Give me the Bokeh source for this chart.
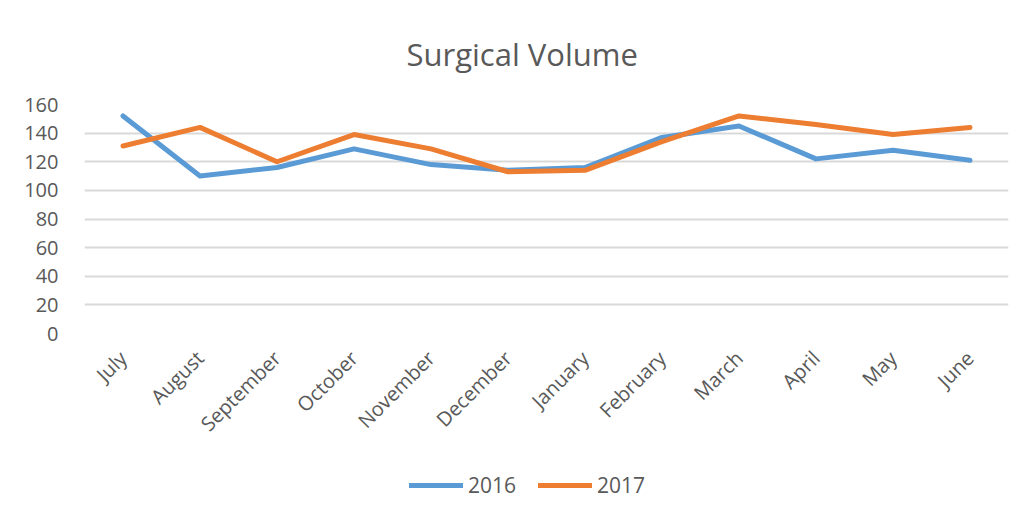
from bokeh.plotting import figure
from bokeh.layouts import column
from bokeh.models import Range1d, FactorRange, Legend, LegendItem
from bokeh.embed import file_html
from bokeh.resources import INLINE
import math

months = ["July", "August", "September", "October", "November", "December",
          "January", "February", "March", "April", "May", "June"]
vol_2016 = [152, 110, 116, 129, 118, 114, 116, 137, 145, 122, 128, 121]
vol_2017 = [131, 144, 120, 139, 129, 113, 114, 134, 152, 146, 139, 144]
y_ticks = [0, 20, 40, 60, 80, 100, 120, 140, 160]
title_text = "Surgical Volume"
series_names = ["2016", "2017"]
colors = ["#5B9BD5", "#ED7D31"]

FONT = "Open Sans"
TXT = "#595959"

p = figure(frame_width=924, frame_height=229, x_range=FactorRange(*months, range_padding=0),
           y_range=Range1d(0, 160), output_backend="svg", toolbar_location=None,
           min_border_left=84, min_border_right=18, min_border_top=104, min_border_bottom=100,
           title=title_text)
p.outline_line_color = None
p.background_fill_color = "white"
p.border_fill_color = "white"

p.title.text_font = FONT
p.title.text_font_size = "31px"
p.title.text_font_style = "normal"
p.title.text_color = TXT
p.title.align = "left"
p.title.offset = 322
p.title.standoff = 60

p.line(months, vol_2016, line_color=colors[0], line_width=5, line_join="round", line_cap="round")
p.line(months, vol_2017, line_color=colors[1], line_width=5, line_join="round", line_cap="round")

p.xgrid.grid_line_color = None
p.ygrid.grid_line_color = "#d9d9d9"
p.ygrid.grid_line_width = 2
p.yaxis.ticker = y_ticks

for ax in (p.xaxis[0], p.yaxis[0]):
    ax.axis_line_color = None
    ax.major_tick_line_color = None
    ax.minor_tick_line_color = None
    ax.major_label_text_font = FONT
    ax.major_label_text_font_size = "20px"
    ax.major_label_text_color = TXT
p.yaxis.major_label_standoff = 20
p.xaxis.major_label_orientation = math.pi / 4
p.xaxis.major_label_standoff = 15

# legend strip below the chart (series drawn out of its visible range, used as legend keys)
lg = figure(width=1026, height=79, x_range=FactorRange(*months), y_range=Range1d(-2, -1),
            output_backend="svg", toolbar_location=None, min_border=0,
            x_axis_location=None, y_axis_location=None)
lg.outline_line_color = None
lg.xgrid.grid_line_color = None
lg.ygrid.grid_line_color = None
k1 = lg.line(months, vol_2016, line_color=colors[0], line_width=5, line_cap="round")
k2 = lg.line(months, vol_2017, line_color=colors[1], line_width=5, line_cap="round")

legend = Legend(items=[LegendItem(label=series_names[0], renderers=[k1]),
                       LegendItem(label=series_names[1], renderers=[k2])],
                location=(325, 29), orientation="horizontal",
                glyph_width=54, glyph_height=20, label_height=20, label_standoff=5,
                spacing=22, padding=0, margin=0, border_line_color=None,
                background_fill_alpha=0, label_text_font=FONT,
                label_text_font_size="21px", label_text_color=TXT)
lg.add_layout(legend, "center")

layout = column(p, lg, spacing=0)
open("out.html", "w").write(file_html(layout, INLINE))
